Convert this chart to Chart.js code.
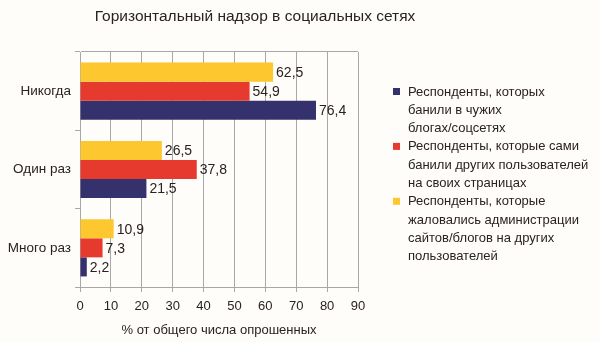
<!DOCTYPE html>
<html>
<head>
<meta charset="utf-8">
<script src="https://cdn.jsdelivr.net/npm/chart.js@4"></script>
<style>
	html, body { margin: 0; padding: 0; background: #fffdfa; }
	#wrap { width: 600px; height: 342px; }
</style>
</head>
<body>
<div id="wrap"><canvas id="chart"></canvas></div>
<script>
// data
var chartTitle = 'Горизонтальный надзор в социальных сетях';
var axisTitle = '% от общего числа опрошенных';
var categories = ['Никогда', 'Один раз', 'Много раз'];
var xTicks = [0, 10, 20, 30, 40, 50, 60, 70, 80, 90];

var complainedValues = [62.5, 26.5, 10.9];
var bannedOthersValues = [54.9, 37.8, 7.3];
var wereBannedValues = [76.4, 21.5, 2.2];

var complainedLabel = ['Респонденты, которые', 'жаловались администрации', 'сайтов/блогов на других', 'пользователей'];
var bannedOthersLabel = ['Респонденты, которые сами', 'банили других пользователей', 'на своих страницах'];
var wereBannedLabel = ['Респонденты, которых', 'банили в чужих', 'блогах/соцсетях'];

var textColor = '#2a2220';
var gridColor = '#a8a8a8';
var fontName = '"Liberation Sans", Arial, sans-serif';

// title, value labels and the legend on the right
var decor = {
	id: 'decor',
	beforeDraw: function(chart) {
		var c = chart.ctx;
		c.save();
		c.fillStyle = '#fffdfa';
		c.fillRect(0, 0, chart.width, chart.height);
		c.restore();
	},
	afterDatasetsDraw: function(chart) {
		var c = chart.ctx;
		c.save();
		c.font = '14px ' + fontName;
		c.fillStyle = textColor;
		c.textBaseline = 'middle';
		c.textAlign = 'left';
		chart.data.datasets.forEach(function(ds, i) {
			chart.getDatasetMeta(i).data.forEach(function(bar, j) {
				c.fillText(String(ds.data[j]).replace('.', ','), bar.x + 3, bar.y + 1);
			});
		});
		c.restore();
	},
	afterDraw: function(chart) {
		var c = chart.ctx;
		c.save();
		c.fillStyle = textColor;
		c.font = '15.5px ' + fontName;
		c.textAlign = 'center';
		c.textBaseline = 'middle';
		c.fillText(chartTitle, 255, 17);

		// legend, reversed order like the original
		c.font = '13px ' + fontName;
		c.textAlign = 'left';
		var y = 92;
		var dss = chart.data.datasets.slice().reverse();
		dss.forEach(function(ds) {
			c.fillStyle = ds.backgroundColor;
			c.fillRect(393, y - 4, 7, 7);
			c.fillStyle = textColor;
			ds.label.forEach(function(line) {
				c.fillText(line, 408, y);
				y += 18.3;
			});
		});
		c.restore();
	}
};

var ctx = document.getElementById('chart').getContext('2d');
var chart = new Chart(ctx, {
	type: 'bar',
	data: {
		labels: categories,
		datasets: [
		{label: complainedLabel, data: complainedValues, backgroundColor: '#fdc82f'},
		{label: bannedOthersLabel, data: bannedOthersValues, backgroundColor: '#e63a2e'},
		{label: wereBannedLabel, data: wereBannedValues, backgroundColor: '#35316c'}]
	},
	options: {
		indexAxis: 'y',
		responsive: true,
		maintainAspectRatio: false,
		animation: false,
		layout: { padding: { top: 52, right: 242, left: 0, bottom: 0 } },
		categoryPercentage: 0.73,
		barPercentage: 1,
		plugins: {
			legend: { display: false },
			title: { display: false },
			tooltip: { enabled: false }
		},
		scales: {
			x: {
				min: 0,
				max: 90,
				afterBuildTicks: function(s) { s.ticks = xTicks.map(function(v) { return {value: v}; }); },
				afterFit: function(s) { s.height = 55; },
				grid: { color: gridColor, tickLength: 5, tickColor: gridColor },
				border: { color: gridColor },
				ticks: { color: textColor, font: { family: fontName, size: 13 }, padding: 7 },
				title: {
					display: true,
					text: axisTitle,
					color: textColor,
					font: { family: fontName, size: 13 },
					padding: { top: 4, bottom: 4 }
				}
			},
			y: {
				afterFit: function(s) { s.width = 80; },
				grid: {
					offset: true,
					tickLength: 5,
					tickColor: gridColor,
					// only the top edge of the frame is drawn across the plot
					color: function(c) { return c.index === 0 ? gridColor : 'rgba(0,0,0,0)'; }
				},
				border: { color: gridColor },
				ticks: { color: textColor, font: { family: fontName, size: 13.5 }, padding: 4 }
			}
		}
	},
	plugins: [decor]
});
</script>
</body>
</html>
